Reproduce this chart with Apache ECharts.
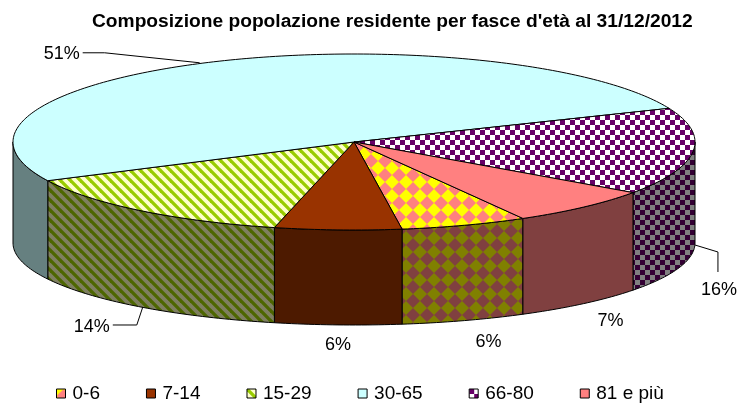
<!DOCTYPE html>
<html>
<head>
<meta charset="utf-8">
<script src="https://cdn.jsdelivr.net/npm/echarts@6/dist/echarts.min.js"></script>
<style>
  html, body { margin: 0; padding: 0; background: #fff; }
  #main { width: 741px; height: 403px; }
</style>
</head>
<body>
<div id="main"></div>
<script>
// dati: fasce d'età e percentuali
var categories = ['0-6', '7-14', '15-29', '30-65', '66-80', '81 e più'];
var values = [6, 6, 14, 51, 16, 7];

var FONT = '"Liberation Sans", Arial, sans-serif';

// geometria della torta 3D: ellisse superiore e ellisse di base (prospettiva)
var pie = { cx: 354, cy: 142, rx: 341, ry: 88, start: 60.3 };
var base = { cx: 354, cy: 243, rx: 341, ry: 82 };

// piccoli pattern in stile Excel
function tile(size, draw) {
  var c = document.createElement('canvas');
  c.width = c.height = size;
  draw(c.getContext('2d'), size);
  return { image: c, repeat: 'repeat' };
}
function diamonds(bg, fg) {
  return tile(14, function (ctx, s) {
    ctx.fillStyle = bg; ctx.fillRect(0, 0, s, s);
    ctx.fillStyle = fg;
    ctx.beginPath();
    ctx.moveTo(s / 2, 0); ctx.lineTo(s, s / 2); ctx.lineTo(s / 2, s); ctx.lineTo(0, s / 2);
    ctx.closePath(); ctx.fill();
  });
}
function checker(bg, fg) {
  return tile(10, function (ctx, s) {
    ctx.fillStyle = bg; ctx.fillRect(0, 0, s, s);
    ctx.fillStyle = fg;
    ctx.fillRect(0, 0, s / 2, s / 2); ctx.fillRect(s / 2, s / 2, s / 2, s / 2);
  });
}
function stripes(bg, fg) {
  return tile(10, function (ctx, s) {
    ctx.fillStyle = bg; ctx.fillRect(0, 0, s, s);
    ctx.strokeStyle = fg; ctx.lineWidth = 3.3;
    for (var k = -s; k <= s; k += s) {
      ctx.beginPath(); ctx.moveTo(k - 1, -1); ctx.lineTo(k + s + 1, s + 1); ctx.stroke();
    }
  });
}

var topFill = [
  diamonds('#FFFF00', '#FF8080'), '#993300', stripes('#FFFFCC', '#99CC00'),
  '#CCFFFF', checker('#FFFFFF', '#660066'), '#FF8080'
];
var sideFill = [
  diamonds('#808000', '#804040'), '#4D1A00', stripes('#7F7F60', '#4D6600'),
  '#668080', checker('#808080', '#330033'), '#804040'
];

// posizione delle etichette rispetto al punto di ancoraggio della fetta
var labelLayout = [
  { dx: 24, dy: 21, align: 'center' },
  { dx: 0, dy: 20, align: 'center' },
  { dx: -31, dy: 20, align: 'right', leader: [[0, 0], [27, -2], [3, -2]], from: [2, 0] },
  { dx: -134, dy: -8, align: 'right', leader: [[0, 0], [25, -1], [3, -1]], from: [-14, 1] },
  { dx: 26, dy: 38, align: 'center', leader: [[0, 0], [-1, -38], [-1, -18]], from: [2, -7] },
  { dx: 27, dy: 17, align: 'center' }
];

function pt(e, deg) {
  var r = deg * Math.PI / 180;
  return [e.cx + e.rx * Math.cos(r), e.cy + e.ry * Math.sin(r)];
}
function arc(e, a, b) {
  var n = Math.max(2, Math.ceil(Math.abs(b - a)));
  var out = [];
  for (var k = 0; k <= n; k++) out.push(pt(e, a + (b - a) * k / n));
  return out;
}

function makeRender(i) {
  return function (params, api) {
    var total = values.reduce(function (s, v) { return s + v; }, 0);
    var before = 0;
    for (var k = 0; k < i; k++) before += values[k];
    var a = pie.start + before / total * 360;
    var b = a + api.value(0) / total * 360;
    var children = [];

    // pareti laterali visibili (metà anteriore)
    [0, 360].forEach(function (off) {
      var s = Math.max(a, off), e = Math.min(b, off + 180);
      if (e > s) {
        children.push({
          type: 'polygon', z2: 1,
          shape: { points: arc(pie, s, e).concat(arc(base, e, s)) },
          style: { fill: sideFill[i], stroke: '#000', lineWidth: 1 }
        });
      }
    });

    // faccia superiore
    children.push({
      type: 'polygon', z2: 5,
      shape: { points: [[pie.cx, pie.cy]].concat(arc(pie, a, b)) },
      style: { fill: topFill[i], stroke: '#000', lineWidth: 1 }
    });

    // etichetta percentuale
    var mid = (a + b) / 2;
    var m = ((mid % 360) + 360) % 360;
    var anchor = m < 180 ? pt(base, mid) : pt(pie, mid);
    var L = labelLayout[i];
    var lx = anchor[0] + L.dx, ly = anchor[1] + L.dy;
    if (L.leader) {
      var lp = L.leader.map(function (p, j) {
        if (j === 0) return [anchor[0] + L.from[0], anchor[1] + L.from[1]];
        return [lx + p[0], ly + p[1]];
      });
      children.push({
        type: 'polyline', z2: 10,
        shape: { points: lp },
        style: { stroke: '#000', fill: null, lineWidth: 1 }
      });
    }
    children.push({
      type: 'text', z2: 10,
      style: {
        text: Math.round(api.value(0) / total * 100) + '%',
        x: lx, y: ly, align: L.align, verticalAlign: 'middle',
        fill: '#000', font: '18px ' + FONT
      }
    });

    return { type: 'group', children: children };
  };
}

var chart = echarts.init(document.getElementById('main'), null, { renderer: 'canvas' });

var option = {
  animation: false,
  title: {
    text: "Composizione popolazione residente per fasce d'età al 31/12/2012",
    left: 92, top: 12, padding: 0,
    textStyle: { fontSize: 19.2, fontWeight: 'bold', fontFamily: FONT, color: '#000' }
  },
  legend: {
    data: categories,
    left: 56, top: 384, padding: 0,
    icon: 'rect', itemWidth: 9, itemHeight: 9, itemGap: 46,
    selectedMode: false,
    itemStyle: { borderColor: '#000', borderWidth: 1 },
    textStyle: { fontSize: 19, fontFamily: FONT, color: '#000', padding: [0, 0, 0, 2] }
  },
  series: categories.map(function (name, i) {
    return {
      type: 'custom',
      name: name,
      coordinateSystem: 'none',
      itemStyle: { color: topFill[i] },
      data: [values[i]],
      renderItem: makeRender(i)
    };
  })
};

chart.setOption(option);
</script>
</body>
</html>
